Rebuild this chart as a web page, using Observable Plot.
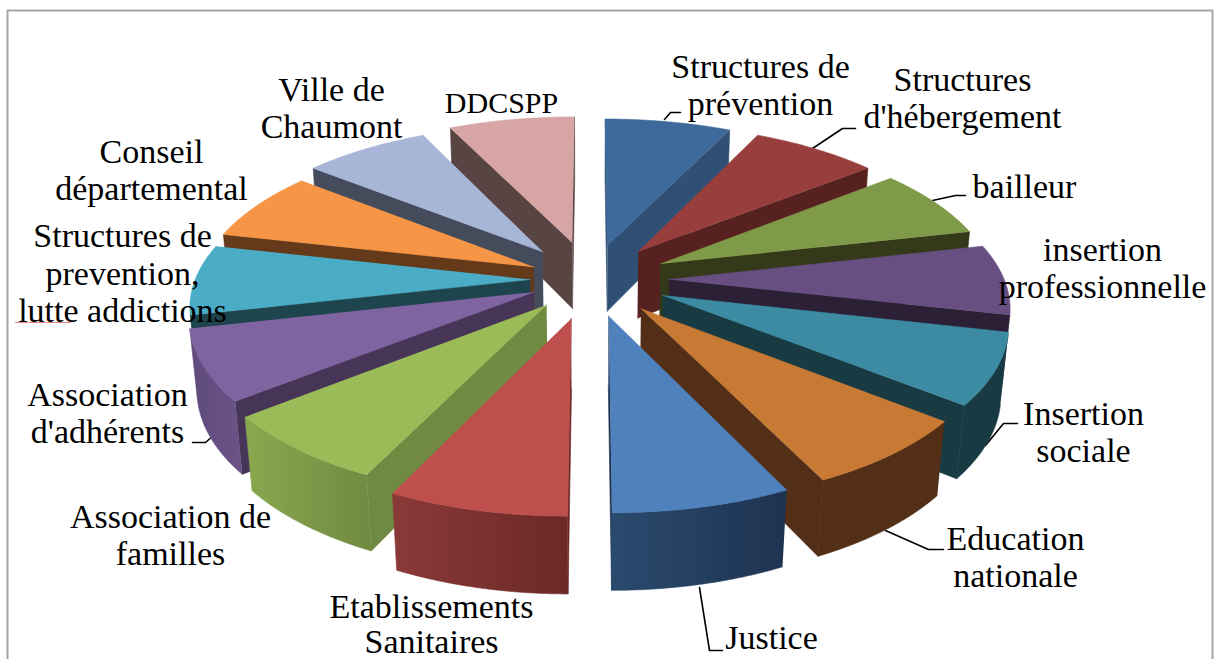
<!DOCTYPE html>
<html><head><meta charset="utf-8">
<style>html,body{margin:0;background:#fff}svg{display:block}</style>
<script src="https://cdn.jsdelivr.net/npm/d3@7"></script>
<script src="https://cdn.jsdelivr.net/npm/@observablehq/plot@0.6"></script>
</head><body><div id="chart"></div>
<script>
const categories = ["Structures de prévention","Structures d'hébergement","bailleur","insertion professionnelle","Insertion sociale","Education nationale","Justice","Etablissements Sanitaires","Association de familles","Association d'adhérents","Structures de prevention, lutte addictions","Conseil départemental","Ville de Chaumont","DDCSPP"];
const values = [1,1,1,1,1,1,1,1,1,1,1,1,1,1];
const explodes = [.235,.235,.235,.235,.235,.235,.235,.25,.205,.185,.18,.19,.235,.255];
const topColors = ["#3E6A9B","#983F3D","#7F9A48","#674F82","#3C8BA3","#C87A35","#4F81BD","#BE4F4C","#9BBB59","#8064A2","#4BACC6","#F69545","#A7B6D6","#D6A5A4"];
const sideColors = ["#2F4F75","#57211F","#34391A","#2B2036","#183A42","#522F16","#1E3350","#6B2927","#708A41","#473558","#1E454E","#653A1A","#444C5C","#584443"];
const rimLeft = ["#2F4F75","#57211F","#34391A","#2B2036","#183A42","#522F16","#2A4A6E","#8A3938","#8AA84F","#5F4A7C","#1E454E","#653A1A","#444C5C","#584443"];
const rimRight = ["#2F4F75","#57211F","#34391A","#2B2036","#183A42","#522F16","#1E3350","#6B2927","#708A41","#6B5488","#1E454E","#653A1A","#444C5C","#584443"];

// camera and pie model
const view = {cx:590, cy:279, f:335, tilt:27.5*Math.PI/180, dist:5.9, depth:0.232};
function project(X,Y,Z){
  const u=X, v=Y*Math.sin(view.tilt)-Z*Math.cos(view.tilt), w=Y*Math.cos(view.tilt)+Z*Math.sin(view.tilt);
  const s=view.dist/(view.dist-w);
  return {x:u*s, y:v*s};
}
const fromPx=(px,py)=>({x:(px-view.cx)/view.f, y:(py-view.cy)/view.f});

const total=d3.sum(values);
let acc=0;
const slices=values.map((v,i)=>{const a1=acc/total*2*Math.PI; acc+=v; const a2=acc/total*2*Math.PI; const m=(a1+a2)/2;
  return {i,a1,a2,m,ox:explodes[i]*Math.sin(m),oy:-explodes[i]*Math.cos(m)};});
const camY=view.dist*Math.cos(view.tilt);
const faces=[];
let fid=0;
function addFace(pts,fill){const id=fid++; pts.forEach(p=>faces.push({id,fill,x:p.x,y:p.y}));}
const ordered=[...slices].sort((a,b)=>Math.cos(b.m)-Math.cos(a.m));
for(const s of ordered){
  const {i,a1,a2,ox,oy}=s;
  const on=(a,r,z)=>project(ox+r*Math.sin(a),oy-r*Math.cos(a),z);
  const h=-view.depth;
  const faceVis=(px,py,nx,ny)=>((0-px)*nx+(camY-py)*ny)>0;
  // radial faces
  if(faceVis(ox,oy,-Math.cos(a1),-Math.sin(a1)))
    addFace([on(a1,0,0),on(a1,1,0),on(a1,1,h),on(a1,0,h)],sideColors[i]);
  if(faceVis(ox,oy,Math.cos(a2),Math.sin(a2)))
    addFace([on(a2,0,0),on(a2,1,0),on(a2,1,h),on(a2,0,h)],sideColors[i]);
  // outer wall
  const vis=d3.range(0,121).map(k=>a1+(a2-a1)*k/120).filter(a=>faceVis(ox+Math.sin(a),oy-Math.cos(a),Math.sin(a),-Math.cos(a)));
  if(vis.length>1){
    addFace([...vis.map(a=>on(a,1,0)),...vis.slice().reverse().map(a=>on(a,1,h))],`url(#rim${i})`);
  }
  // top
  addFace([on(a1,0,0),...d3.range(0,121).map(k=>on(a1+(a2-a1)*k/120,1,0))],topColors[i]);
}

const labelLines=[
 ["Structures de",760,67],["prévention",760,104],
 ["Structures",962,80],["d'hébergement",962,117],
 ["bailleur",1024,187],
 ["insertion",1102,250],["professionnelle",1102,287],
 ["Insertion",1083,414],["sociale",1083,451],
 ["Education",1015,539],["nationale",1015,576],
 ["Justice",771,638],
 ["Etablissements",431,607],["Sanitaires",431,642],
 ["Association de",170,517],["familles",170,554],
 ["Association",107,395],["d'adhérents",107,432],
 ["Structures de",122,236],["prevention,",122,274],["lutte addictions",122,311],
 ["Conseil",151,152],["départemental",151,189],
 ["Ville de",331,90],["Chaumont",331,127]
].map(([t,px,py])=>({t,...fromPx(px,py)}));
const capsLabel=[["DDCSPP",501,103]].map(([t,px,py])=>({t,...fromPx(px,py)}));
const leaderPaths=[
 [[664,119],[670,112],[680,112]],
 [[812,148],[842,128],[855,128]],
 [[932,200],[955,195],[965,195]],
 [[985,445],[1003,423],[1017,423]],
 [[885,530],[928,549],[943,549]],
 [[699,587],[709,650],[722,650]],
 [[192,442],[205,442],[213,435]]
];
const leaders=leaderPaths.flatMap((p,k)=>p.map(([a,b])=>({k,...fromPx(a,b)})));
const frame=[[7,660],[7,10],[1212,10],[1212,660]].map(([a,b])=>fromPx(a,b));
const squiggle=[[15,322],[70,322]].map(([a,b])=>fromPx(a,b));

const gradients=()=>{
  const defs=d3.create("svg:defs");
  rimLeft.forEach((c,i)=>{
    const g=defs.append("linearGradient").attr("id","rim"+i).attr("x1",0).attr("x2",1).attr("y1",0).attr("y2",0);
    g.append("stop").attr("offset",0).attr("stop-color",c);
    g.append("stop").attr("offset",1).attr("stop-color",rimRight[i]);
  });
  return defs.node();
};

const chart=Plot.plot({
  width:1215,height:659,margin:0,
  style:{background:"#fff"},
  x:{domain:[-1,1],range:[view.cx-view.f,view.cx+view.f],axis:null},
  y:{domain:[-1,1],range:[view.cy-view.f,view.cy+view.f],axis:null},
  marks:[
    gradients,
    Plot.line(frame,{x:"x",y:"y",stroke:"#a6a6a6",strokeWidth:2,curve:"linear"}),
    Plot.line(leaders,{x:"x",y:"y",z:"k",stroke:"#000",strokeWidth:1.6}),
    Plot.line(faces,{x:"x",y:"y",z:"id",fill:{value:"fill",scale:null},stroke:{value:"fill",scale:null},strokeWidth:0.6}),
    Plot.line(squiggle,{x:"x",y:"y",stroke:"#e88",strokeWidth:1}),
    Plot.text(labelLines,{x:"x",y:"y",text:"t",fontSize:34,fontFamily:"Liberation Serif",fill:"#000",textAnchor:"middle",lineAnchor:"middle"}),
    Plot.text(capsLabel,{x:"x",y:"y",text:"t",fontSize:30,fontFamily:"Liberation Serif",fill:"#000",textAnchor:"middle",lineAnchor:"middle"})
  ]
});
document.getElementById("chart").append(chart);
</script></body></html>
